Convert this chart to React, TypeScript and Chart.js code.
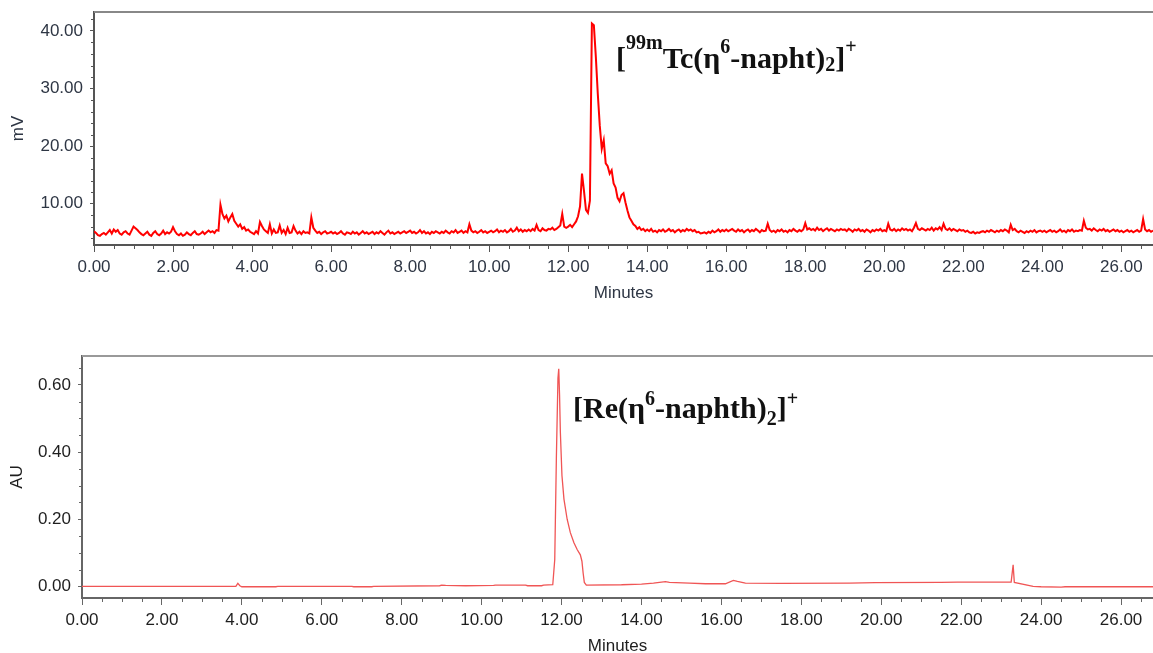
import React, { useEffect, useRef } from "react";
import { Chart, registerables } from "chart.js";

Chart.register(...registerables);

// ---------------- DATA ----------------
// Top trace: radio detector, mV, sampled every 0.05 min from 0.00 to 26.80 min
const TOP_START_MIN = 0;
const TOP_STEP_MIN = 0.05;
const topSignalMV = [
  // 0.00 - 0.95
  5.2, 4.9, 4.5, 4.4, 4.7, 4.9, 4.6, 5.0, 5.4, 4.8, 5.5, 5.1, 5.4, 4.8, 4.6, 5.0, 5.2, 4.8, 4.6, 5.3,
  // 1.00 - 1.95
  6.0, 5.7, 5.4, 5.0, 4.7, 4.5, 4.8, 5.1, 4.6, 4.4, 4.9, 5.2, 4.7, 4.5, 4.8, 5.3, 4.7, 5.0, 4.8, 5.1,
  // 2.00 - 2.95
  5.9, 5.2, 4.7, 4.5, 4.8, 4.4, 4.6, 5.0, 4.7, 4.5, 4.9, 5.2, 4.7, 4.6, 4.8, 5.1, 4.7, 5.0, 5.3, 5.0,
  // 3.00 - 3.95
  5.2, 4.9, 5.4, 5.3, 9.8, 8.2, 7.4, 7.9, 6.9, 7.6, 8.2, 7.0, 6.5, 6.0, 6.4, 5.6, 5.9, 5.3, 5.5, 5.1,
  // 4.00 - 4.95
  4.9, 4.7, 5.2, 4.8, 6.8, 6.1, 5.5, 5.2, 4.9, 6.4, 4.8, 5.5, 4.9, 5.0, 6.2, 4.9, 5.4, 4.7, 5.8, 4.9,
  // 5.00 - 5.95
  5.0, 6.1, 5.3, 4.8, 5.1, 4.7, 5.2, 4.9, 5.0, 4.8, 7.6, 5.8, 5.3, 4.9, 5.1, 4.7, 5.0, 5.2, 4.8, 4.9,
  // 6.00 - 6.95
  5.1, 4.8, 5.0, 4.7, 4.9, 5.2, 4.8, 4.6, 5.0, 4.9, 4.7, 5.1, 4.8, 5.0, 4.6, 4.9, 5.2, 4.8, 5.0, 4.7,
  // 7.00 - 7.95
  4.9, 5.1, 4.7, 5.0, 4.8, 5.2, 4.9, 4.6, 5.0, 5.3, 4.8, 5.0, 4.7, 4.9, 5.1, 4.8, 5.0, 5.2, 4.9, 5.1,
  // 8.00 - 8.95
  5.3, 4.9, 5.1, 4.8, 5.0, 5.4, 4.9, 5.2, 4.8, 5.0, 4.7, 5.1, 4.9, 5.2, 5.0, 4.8, 5.1, 4.9, 5.3, 5.0,
  // 9.00 - 9.95
  4.8, 5.2, 5.0, 5.4, 4.9, 5.1, 5.3, 4.9, 5.2, 5.0, 6.4, 5.3, 5.0, 5.2, 4.9, 5.1, 5.4, 5.0, 5.2, 4.9,
  // 10.00 - 10.95
  5.1, 5.3, 5.0, 5.2, 5.5, 5.0, 5.3, 5.1, 5.4, 5.0, 5.2, 5.6, 5.1, 5.3, 5.8, 5.2, 5.5, 5.1, 5.4, 5.2,
  // 11.00 - 11.95
  5.5, 5.2, 5.6, 5.3, 6.3, 5.4, 5.2, 5.7, 5.4, 5.3, 5.6, 5.5, 5.8, 5.4, 5.6, 5.9, 6.2, 8.2, 6.0, 5.8,
  // 12.00 - 12.95
  6.0, 6.3, 5.9, 6.4, 6.9, 7.8, 9.5, 15.2, 12.2, 8.9, 8.4, 10.5, 41.3, 41.0, 35.5, 29.0, 23.5, 19.5, 21.0, 17.0,
  // 13.00 - 13.95
  16.5, 15.2, 15.8, 13.5, 12.8, 11.0, 10.4, 11.5, 11.8, 10.2, 8.8, 7.6, 7.0, 6.4, 6.1, 5.6, 5.9, 5.4, 5.6, 5.2,
  // 14.00 - 14.95
  5.5, 5.2, 5.6, 5.1, 5.3, 5.0, 5.4, 5.2, 5.5, 5.1, 5.3, 5.6, 5.2, 5.4, 5.0, 5.3, 5.5, 5.1, 5.4, 5.2,
  // 15.00 - 15.95
  5.6, 5.3, 5.5, 5.2, 5.4, 5.0, 5.1, 4.8, 4.9, 5.0, 4.8, 5.1, 4.9, 5.3, 5.0, 5.2, 5.5, 5.1, 5.4, 5.2,
  // 16.00 - 16.95
  5.5, 5.2, 5.4, 5.6, 5.3, 5.1, 5.5, 5.2, 5.4, 5.0, 5.3, 5.5, 5.1, 5.4, 5.2, 5.6, 5.3, 5.0, 5.4, 5.2,
  // 17.00 - 17.95
  5.3, 6.5, 5.4, 5.1, 5.3, 5.0, 5.4, 5.2, 5.5, 5.1, 5.3, 5.0, 5.4, 5.2, 5.6, 5.3, 5.1, 5.4, 5.2, 5.5,
  // 18.00 - 18.95
  6.6, 5.5, 5.7, 5.4, 5.6, 5.3, 5.8, 5.4, 5.6, 5.2, 5.5, 5.7, 5.3, 5.6, 5.4, 5.2, 5.5, 5.3, 5.6, 5.4,
  // 19.00 - 19.95
  5.5, 5.2, 5.6, 5.4, 5.1, 5.5, 5.3, 5.6, 5.2, 5.4, 5.1, 5.5, 5.3, 5.0, 5.4, 5.2, 5.5, 5.3, 5.6, 5.2,
  // 20.00 - 20.95
  5.4, 5.2, 6.5, 5.5, 5.3, 5.6, 5.2, 5.5, 5.3, 5.7, 5.4, 5.6, 5.3, 5.5, 5.2, 5.8, 6.6, 5.6, 5.4, 5.7,
  // 21.00 - 21.95
  5.5, 5.3, 5.6, 5.4, 5.8, 5.3, 5.7, 5.5, 5.9, 5.4, 6.5, 5.6, 5.4, 5.7, 5.3, 5.6, 5.4, 5.2, 5.5, 5.3,
  // 22.00 - 22.95
  5.4, 5.1, 5.3, 5.0, 4.9, 5.1, 4.8, 5.0, 4.9, 5.1, 5.2, 5.0, 5.3, 5.1, 5.4, 5.2, 5.0, 5.3, 5.1, 5.4,
  // 23.00 - 23.95
  5.2, 5.5, 5.3, 5.0, 6.3, 5.4, 5.6, 5.2, 5.0, 5.3, 5.1, 4.9, 5.2, 5.0, 5.3, 5.1, 5.4, 5.0, 5.2, 5.3,
  // 24.00 - 24.95
  5.1, 5.3, 5.0, 5.2, 5.4, 5.1, 5.3, 5.0, 5.2, 5.5, 5.1, 5.3, 5.0, 5.4, 5.2, 5.5, 5.1, 5.3, 5.2, 5.4,
  // 25.00 - 25.95
  5.3, 7.0, 5.8, 5.5, 5.6, 5.3, 5.7, 5.4, 5.2, 5.5, 5.3, 5.6, 5.2, 5.4, 5.1, 5.3, 5.5, 5.2, 5.4, 5.1,
  // 26.00 - 26.80
  5.3, 5.0, 5.2, 5.4, 5.1, 5.3, 5.0, 5.2, 5.4, 5.1, 5.3, 7.3, 5.5, 5.2, 5.4, 5.1, 5.3,
];

// Bottom trace: UV detector, AU
const bottomTimesMin = [
  0.0, 3.85, 3.9, 3.95, 4.0, 4.85, 4.9, 6.75, 6.8, 7.25, 7.3, 8.95, 9.0, 9.1, 9.6, 10.3, 10.35, 11.1, 11.15, 11.5,
  11.55, 11.78, 11.83, 11.87, 11.91, 11.93, 11.95, 11.97, 12.01, 12.06, 12.14, 12.22, 12.31, 12.39, 12.47, 12.51,
  12.54, 12.57, 12.62, 13.5, 14.0, 14.3, 14.6, 14.7, 15.2, 15.6, 16.1, 16.3, 16.4, 16.6, 17.5, 19.2, 19.85, 21.5,
  21.9, 23.25, 23.3, 23.33, 23.8, 24.0, 24.5, 24.6, 26.8,
];
const bottomSignalAU = [
  0.0, 0.0, 0.009, 0.002, -0.001, -0.001, 0.0, 0.0, -0.001, -0.001, 0.0, 0.002, 0.004, 0.003, 0.002, 0.003, 0.004, 0.004, 0.002, 0.002,
  0.004, 0.005, 0.08, 0.38, 0.62, 0.648, 0.57, 0.46, 0.33, 0.26, 0.2, 0.16, 0.13, 0.11, 0.094, 0.075,
  0.04, 0.012, 0.004, 0.005, 0.007, 0.01, 0.014, 0.012, 0.01, 0.008, 0.008, 0.018, 0.015, 0.01, 0.009, 0.01, 0.011, 0.012,
  0.013, 0.013, 0.064, 0.012, 0.0, -0.001, -0.002, -0.001, -0.001,
];

const xMajorTicks = [0, 2, 4, 6, 8, 10, 12, 14, 16, 18, 20, 22, 24, 26];
const topYMajorTicks = [10, 20, 30, 40];
const bottomYMajorTicks = [0, 0.2, 0.4, 0.6];

const xAxisTitle = "Minutes";
const topYAxisTitle = "mV";
const bottomYAxisTitle = "AU";

// rich-text labels: [text, role]
const topPeakLabel: [string, string][] = [
  ["[", "n"], ["99m", "sup2"], ["Tc(η", "n"], ["6", "sup"], ["-napht)", "n"], ["2", "sub"], ["]", "n"], ["+", "sup"],
];
const bottomPeakLabel: [string, string][] = [
  ["[Re(η", "n"], ["6", "sup"], ["-naphth)", "n"], ["2", "sub"], ["]", "n"], ["+", "sup"],
];

// ---------------- HELPERS ----------------
const isMajor = (v: number, list: number[]) => list.some((m) => Math.abs(m - v) < 1e-6);
const SANS = "'Liberation Sans', Arial, sans-serif";
const SERIF = "'Liberation Serif', 'Times New Roman', serif";

const framePlugin = {
  id: "frame",
  afterDraw(chart: any, _args: any, o: any) {
    const { ctx, chartArea: a, scales } = chart;
    ctx.save();
    // top frame line
    ctx.strokeStyle = o.topColor;
    ctx.lineWidth = o.topWidth;
    ctx.beginPath();
    ctx.moveTo(a.left, a.top);
    ctx.lineTo(a.right, a.top);
    ctx.stroke();
    // minor ticks
    ctx.strokeStyle = o.tickColor;
    ctx.lineWidth = 1;
    ctx.beginPath();
    scales.x.ticks.forEach((t: any) => {
      if (isMajor(t.value, o.xMajors)) return;
      const px = Math.round(scales.x.getPixelForValue(t.value)) + 0.5;
      ctx.moveTo(px, a.bottom);
      ctx.lineTo(px, a.bottom + o.xMinorLen);
    });
    scales.y.ticks.forEach((t: any) => {
      if (isMajor(t.value, o.yMajors)) return;
      const py = Math.round(scales.y.getPixelForValue(t.value)) + 0.5;
      ctx.moveTo(a.left, py);
      ctx.lineTo(a.left - o.yMinorLen, py);
    });
    ctx.stroke();
    // peak label
    ctx.fillStyle = "#111";
    ctx.textBaseline = "alphabetic";
    ctx.textAlign = "left";
    let cx = o.labelX;
    for (const [text, role] of o.label as [string, string][]) {
      const size = role === "n" ? o.labelSize : o.smallSize;
      const dy =
        role === "sup" ? -o.supShift : role === "sup2" ? -o.supShift2 : role === "sub" ? o.subShift : 0;
      ctx.font = `bold ${size}px ${SERIF}`;
      ctx.fillText(text, cx, o.labelY + dy);
      cx += ctx.measureText(text).width;
    }
    ctx.restore();
  },
};

type PanelOpts = {
  height: number;
  points: { x: number; y: number }[];
  lineColor: string;
  lineWidth: number;
  padTop: number;
  yWidth: number;
  xHeight: number;
  yMin: number;
  yMax: number;
  yStep: number;
  yMajors: number[];
  yTitle: string;
  yTitlePad: number;
  xTitlePad: number;
  labelColor: string;
  frameColor: string;
  topColor: string;
  label: [string, string][];
  labelX: number;
  labelY: number;
  supShift: number;
  supShift2: number;
  subShift: number;
};

function buildConfig(p: PanelOpts): any {
  const tickFont = { family: SANS, size: 17 };
  return {
    type: "line",
    data: {
      datasets: [
        {
          data: p.points,
          borderColor: p.lineColor,
          borderWidth: p.lineWidth,
          pointRadius: 0,
          tension: 0,
          fill: false,
        },
      ],
    },
    options: {
      animation: false,
      responsive: false,
      devicePixelRatio: 1,
      events: [],
      parsing: false,
      layout: { padding: { top: p.padTop, left: 0, right: 0, bottom: 0 } },
      plugins: {
        legend: { display: false },
        tooltip: { enabled: false },
        frame: {
          topColor: p.topColor,
          topWidth: 2,
          tickColor: p.frameColor,
          xMajors: xMajorTicks,
          yMajors: p.yMajors,
          xMinorLen: 4,
          yMinorLen: 3,
          label: p.label,
          labelX: p.labelX,
          labelY: p.labelY,
          labelSize: 30,
          smallSize: 20,
          supShift: p.supShift,
          supShift2: p.supShift2,
          subShift: p.subShift,
        },
      },
      scales: {
        x: {
          type: "linear",
          min: 0,
          max: 26.8,
          afterFit: (s: any) => {
            s.height = p.xHeight;
            s.paddingLeft = 0;
            s.paddingRight = 0;
          },
          ticks: {
            stepSize: 0.5,
            includeBounds: false,
            autoSkip: false,
            maxRotation: 0,
            minRotation: 0,
            padding: 5,
            color: p.labelColor,
            font: tickFont,
            callback: (v: any) => (isMajor(Number(v), xMajorTicks) ? Number(v).toFixed(2) : ""),
          },
          grid: {
            drawOnChartArea: false,
            drawTicks: true,
            tickLength: 7,
            tickWidth: 1,
            tickColor: (c: any) =>
              c.tick && isMajor(c.tick.value, xMajorTicks) ? p.frameColor : "rgba(0,0,0,0)",
          },
          border: { display: true, color: p.frameColor, width: 2 },
          title: {
            display: true,
            text: xAxisTitle,
            color: p.labelColor,
            font: { family: SANS, size: 17 },
            padding: { top: 0, bottom: p.xTitlePad },
          },
        },
        y: {
          type: "linear",
          min: p.yMin,
          max: p.yMax,
          afterFit: (s: any) => {
            s.width = p.yWidth;
            s.paddingTop = 0;
            s.paddingBottom = 0;
          },
          ticks: {
            stepSize: p.yStep,
            includeBounds: false,
            autoSkip: false,
            padding: 7,
            color: p.labelColor,
            font: tickFont,
            callback: (v: any) => (isMajor(Number(v), p.yMajors) ? Number(v).toFixed(2) : ""),
          },
          grid: {
            drawOnChartArea: false,
            drawTicks: true,
            tickLength: 4,
            tickWidth: 1,
            tickColor: (c: any) =>
              c.tick && isMajor(c.tick.value, p.yMajors) ? p.frameColor : "rgba(0,0,0,0)",
          },
          border: { display: true, color: p.frameColor, width: 2 },
          title: {
            display: true,
            text: p.yTitle,
            color: p.labelColor,
            font: { family: SANS, size: 17 },
            padding: { top: p.yTitlePad, bottom: 0 },
          },
        },
      },
    },
    plugins: [framePlugin],
  };
}

function ChartPanel({ top, opts }: { top: number; opts: PanelOpts }) {
  const ref = useRef<HTMLCanvasElement>(null);
  useEffect(() => {
    const chart = new Chart(ref.current as HTMLCanvasElement, buildConfig(opts));
    return () => chart.destroy();
  }, []);
  return (
    <canvas
      ref={ref}
      width={1153}
      height={opts.height}
      style={{ position: "absolute", left: 0, top, width: 1153, height: opts.height }}
    />
  );
}

const topPoints = topSignalMV.map((v, i) => ({
  x: Math.round((TOP_START_MIN + i * TOP_STEP_MIN) * 100) / 100,
  y: v,
}));
const bottomPoints = bottomTimesMin.map((t, i) => ({ x: t, y: bottomSignalAU[i] }));

const topOpts: PanelOpts = {
  height: 312,
  points: topPoints,
  lineColor: "#ff0000",
  lineWidth: 2,
  padTop: 12,
  yWidth: 94,
  xHeight: 312 - 245,
  yMin: 2.8,
  yMax: 43.3,
  yStep: 2,
  yMajors: topYMajorTicks,
  yTitle: topYAxisTitle,
  yTitlePad: 8,
  xTitlePad: 8,
  labelColor: "#2e3644",
  frameColor: "#555",
  topColor: "#888",
  label: topPeakLabel,
  labelX: 616,
  labelY: 68,
  supShift: 15,
  supShift2: 19,
  subShift: 3,
};

const bottomOpts: PanelOpts = {
  height: 330,
  points: bottomPoints,
  lineColor: "#f05555",
  lineWidth: 1.3,
  padTop: 26,
  yWidth: 82,
  xHeight: 330 - 268,
  yMin: -0.0345,
  yMax: 0.686,
  yStep: 0.05,
  yMajors: bottomYMajorTicks,
  yTitle: bottomYAxisTitle,
  yTitlePad: 7,
  xTitlePad: 3,
  labelColor: "#1e1e1e",
  frameColor: "#666",
  topColor: "#999",
  label: bottomPeakLabel,
  labelX: 573,
  labelY: 88,
  supShift: 13,
  supShift2: 13,
  subShift: 7,
};

export default function App() {
  return (
    <div
      style={{
        position: "fixed",
        left: 0,
        top: 0,
        width: 1153,
        height: 653,
        overflow: "hidden",
        background: "#fff",
      }}
    >
      <ChartPanel top={0} opts={topOpts} />
      <ChartPanel top={330} opts={bottomOpts} />
    </div>
  );
}
